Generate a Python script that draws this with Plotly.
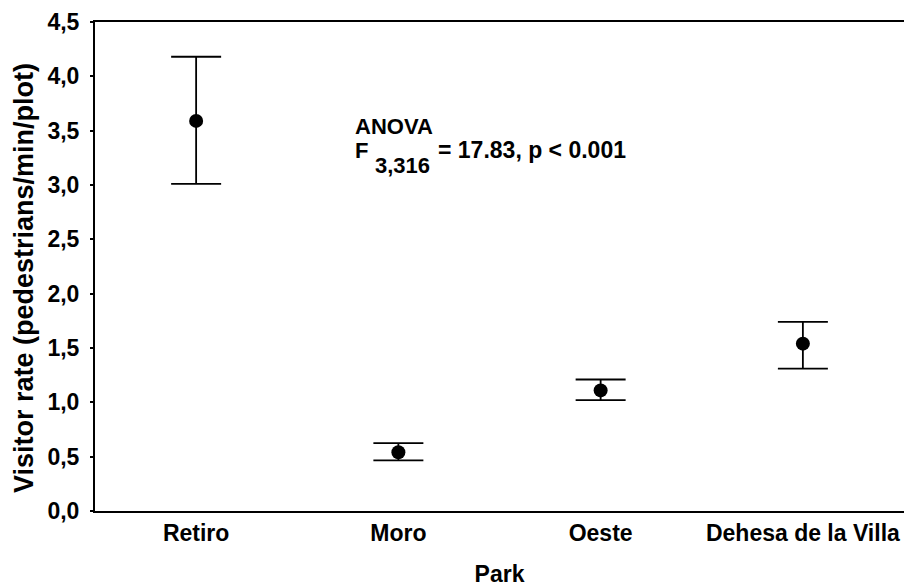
import plotly.graph_objects as go

parks = ["Retiro", "Moro", "Oeste", "Dehesa de la Villa"]
means = [3.59, 0.54, 1.11, 1.54]
upper = [4.18, 0.625, 1.21, 1.74]
lower = [3.01, 0.465, 1.02, 1.31]

err_plus = [u - m for u, m in zip(upper, means)]
err_minus = [m - l for m, l in zip(means, lower)]

fig = go.Figure()
fig.add_trace(go.Scatter(
    x=parks, y=means, mode="markers",
    marker=dict(color="black", size=14),
    error_y=dict(type="data", symmetric=False, array=err_plus, arrayminus=err_minus,
                 color="black", thickness=1.8, width=25),
    showlegend=False,
))

font = "Liberation Sans, Arial, sans-serif"
FW, FH = 904, 587
L, T, W, H = 95, 22, 809, 489


def px(x):
    return (x - L) / W


def py(y):
    return (T + H - y) / H


fig.update_layout(
    width=FW, height=FH,
    margin=dict(l=L, r=FW - L - W, t=T, b=FH - T - H),
    paper_bgcolor="white", plot_bgcolor="white",
    separators=",.",
    font=dict(family=font, color="black"),
    xaxis=dict(
        range=[-0.5, 3.5], showline=True, linecolor="black", linewidth=2,
        mirror=True, ticks="", showgrid=False, zeroline=False, automargin=False,
        tickfont=dict(size=23, family=font),
        title=dict(text="<b>Park</b>", font=dict(size=23), standoff=33),
        tickprefix="<b>", ticksuffix="</b>",
    ),
    yaxis=dict(
        range=[0, 4.5], dtick=0.5, tickformat=".1f",
        showline=True, linecolor="black", linewidth=2, mirror=False,
        ticks="outside", ticklen=3, tickwidth=1.5, tickcolor="black",
        ticklabelstandoff=6,
        showgrid=False, zeroline=False, automargin=False,
        tickfont=dict(size=23, family=font),
        tickprefix="<b>", ticksuffix="</b>",
    ),
    annotations=[
        dict(xref="paper", yref="paper", x=px(24), y=py(278),
             xanchor="center", yanchor="middle", showarrow=False, textangle=-90,
             text="<b>Visitor rate (pedestrians/min/plot)</b>", font=dict(size=27, family=font)),
        dict(xref="paper", yref="paper", x=px(353), y=py(126),
             xanchor="left", yanchor="middle", showarrow=False,
             text="<b>ANOVA</b>", font=dict(size=22, family=font)),
        dict(xref="paper", yref="paper", x=px(353), y=py(150),
             xanchor="left", yanchor="middle", showarrow=False,
             text="<b>F</b>", font=dict(size=22, family=font)),
        dict(xref="paper", yref="paper", x=px(373), y=py(166),
             xanchor="left", yanchor="middle", showarrow=False,
             text="<b>3,316</b>", font=dict(size=22, family=font)),
        dict(xref="paper", yref="paper", x=px(436), y=py(150),
             xanchor="left", yanchor="middle", showarrow=False,
             text="<b>= 17.83, p &lt; 0.001</b>", font=dict(size=23, family=font)),
    ],
)

fig.write_html(
    "out.html",
    config={"displayModeBar": False},
    post_script="document.body.style.margin='0';document.body.style.overflow='hidden';",
)
